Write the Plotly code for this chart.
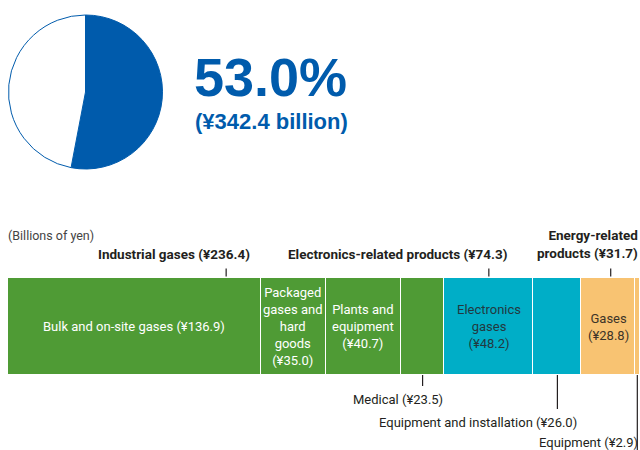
import plotly.graph_objects as go

# ---------------- data ----------------
share_labels = ["Industrial gases share", "Other"]
share_values = [53.0, 47.0]
share_text = "53.0%"
share_amount = "(¥342.4 billion)"

segments = ["Bulk and on-site gases", "Packaged gases and hard goods", "Plants and equipment",
            "Medical", "Electronics gases", "Equipment and installation", "Gases", "Equipment"]
values = [136.9, 35.0, 40.7, 23.5, 48.2, 26.0, 28.8, 2.9]
groups = ["Industrial", "Industrial", "Industrial", "Industrial",
          "Electronics", "Electronics", "Energy", "Energy"]
inside_labels = ["Bulk and on-site gases (¥136.9)",
                 "Packaged<br>gases and<br>hard<br>goods<br>(¥35.0)",
                 "Plants and<br>equipment<br>(¥40.7)",
                 "",
                 "Electronics<br>gases<br>(¥48.2)",
                 "",
                 "Gases<br>(¥28.8)",
                 ""]
outside_labels = ["", "", "", "Medical (¥23.5)", "", "Equipment and installation (¥26.0)", "", "Equipment (¥2.9)"]

group_names = ["Industrial gases (¥236.4)", "Electronics-related products (¥74.3)",
               "Energy-related<br>products (¥31.7)"]
group_totals = [236.4, 74.3, 31.7]
unit_label = "(Billions of yen)"

# ---------------- styles ----------------
W, H = 640, 450
BLUE = "#005bac"
group_colors = {"Industrial": "#4f9b35", "Electronics": "#00aec7", "Energy": "#f8c372"}
text_colors = {"Industrial": "#ffffff", "Electronics": "#22393f", "Energy": "#3d3428"}
FONT = "Roboto, Liberation Sans, Arial, sans-serif"
BIG = "Liberation Sans, Arial, sans-serif"
DARK = "#231f20"
SZ = 13
SZB = 13.5

def px(x):
    return x / W

def py(y):
    return 1 - y / H

fig = go.Figure()

# pie
fig.add_trace(go.Pie(
    labels=share_labels, values=share_values, sort=False, direction="clockwise", rotation=0,
    marker=dict(colors=[BLUE, "#ffffff"], line=dict(color=BLUE, width=1)),
    textinfo="none", hoverinfo="label+percent", showlegend=False,
    domain=dict(x=[px(8), px(163)], y=[py(169), py(15)]),
))

# stacked bar
starts = []
acc = 0.0
for v in values:
    starts.append(acc)
    acc += v
total = acc

for name, v, g in zip(segments, values, groups):
    fig.add_trace(go.Bar(
        y=[0], x=[v], orientation="h", name=name, width=1,
        marker=dict(color=group_colors[g], line=dict(color="#ffffff", width=1.5)),
        showlegend=False, hovertemplate=name + ": ¥%{x}<extra></extra>",
    ))

annotations = []
shapes = []

# big numbers
annotations.append(dict(text=share_text, x=px(192), y=py(77), xref="paper", yref="paper",
                        xanchor="left", yanchor="middle", showarrow=False,
                        font=dict(family=BIG, size=54, color=BLUE, weight="bold")))
annotations.append(dict(text=share_amount, x=px(193), y=py(122), xref="paper", yref="paper",
                        xanchor="left", yanchor="middle", showarrow=False,
                        font=dict(family=BIG, size=22, color=BLUE, weight="bold")))

annotations.append(dict(text=unit_label, x=px(6), y=py(235), xref="paper", yref="paper",
                        xanchor="left", yanchor="middle", showarrow=False,
                        font=dict(family=FONT, size=12.5, color="#444444")))

# inside labels
for s, v, lab, g in zip(starts, values, inside_labels, groups):
    if lab:
        annotations.append(dict(text=lab, x=s + v / 2, y=0, xref="x", yref="y",
                                showarrow=False, xanchor="center", yanchor="middle",
                                font=dict(family=FONT, size=SZ, color=text_colors[g])))

# top ticks: industrial & energy at group centre, electronics at centre of its gases segment
top_tick_x = [starts[0] + sum(values[0:4]) / 2,
              starts[4] + values[4] / 2,
              starts[6] + (values[6] + values[7]) / 2]
for xv in top_tick_x:
    shapes.append(dict(type="line", xref="x", yref="paper", x0=xv, x1=xv,
                       y0=py(276.5), y1=py(268.5), line=dict(color=DARK, width=1.2)))

annotations.append(dict(text="<b>" + group_names[0] + "</b>", x=px(174), y=py(253.5), xref="paper",
                        yref="paper", xanchor="center", yanchor="middle", showarrow=False,
                        font=dict(family=FONT, size=SZB, color=DARK)))
annotations.append(dict(text="<b>" + group_names[1] + "</b>", x=px(397), y=py(253.5), xref="paper",
                        yref="paper", xanchor="center", yanchor="middle", showarrow=False,
                        font=dict(family=FONT, size=SZB, color=DARK)))
annotations.append(dict(text="<b>" + group_names[2] + "</b>", x=px(640), y=py(244), xref="paper",
                        yref="paper", xanchor="right", yanchor="middle", showarrow=False, align="right",
                        font=dict(family=FONT, size=SZB, color=DARK)))

# bottom callouts
bottom_ends = {3: 386, 5: 409, 7: 450}
label_pos = {3: (445, 399), 5: (579, 422), 7: (640, 442)}
for i, lab in enumerate(outside_labels):
    if lab:
        xv = starts[i] + values[i] / 2
        shapes.append(dict(type="line", xref="x", yref="paper", x0=xv, x1=xv,
                           y0=py(375), y1=py(bottom_ends[i]), line=dict(color=DARK, width=1.2)))
        lx, ly = label_pos[i]
        annotations.append(dict(text=lab, x=px(lx), y=py(ly), xref="paper", yref="paper",
                                xanchor="right", yanchor="middle", showarrow=False,
                                font=dict(family=FONT, size=SZ, color=DARK)))

fig.update_layout(
    width=W, height=H, margin=dict(l=0, r=0, t=0, b=0),
    paper_bgcolor="#ffffff", plot_bgcolor="#ffffff",
    barmode="stack", bargap=0,
    xaxis=dict(domain=[px(8), 1], range=[0, total], visible=False, fixedrange=True),
    yaxis=dict(domain=[py(375), py(278)], range=[-0.5, 0.5], visible=False, fixedrange=True),
    annotations=annotations, shapes=shapes,
)

fig.write_html("out.html")
